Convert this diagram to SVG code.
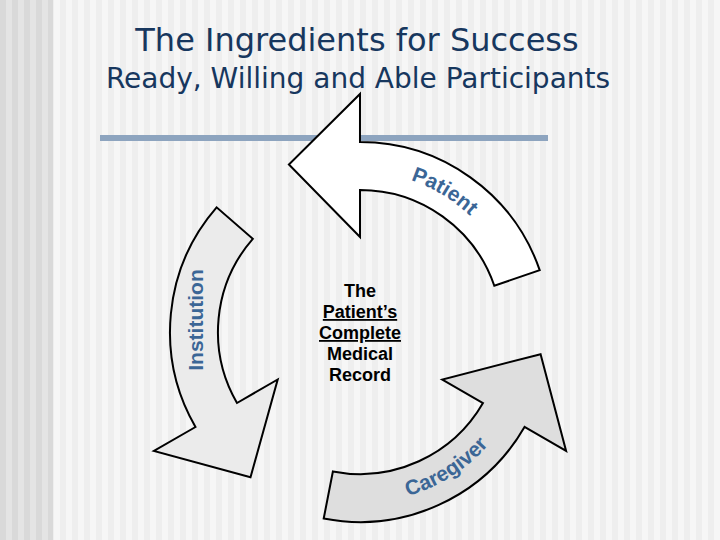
<svg xmlns="http://www.w3.org/2000/svg" width="720" height="540" viewBox="0 0 720 540">
  <defs>
    <pattern id="stripeL" x="0" y="0" width="12" height="12" patternUnits="userSpaceOnUse">
      <rect x="0" y="0" width="6" height="12" fill="#d9d9d9"/>
      <rect x="6" y="0" width="6" height="12" fill="#e4e4e4"/>
    </pattern>
    <pattern id="stripeR" x="0" y="0" width="12" height="12" patternUnits="userSpaceOnUse">
      <rect x="0" y="0" width="6" height="12" fill="#eeeeee"/>
      <rect x="6" y="0" width="6" height="12" fill="#f6f6f6"/>
    </pattern>
    <path id="arrowShape" d="M 216.6 207.3 A 190 190 0 0 0 195.5 427 L 153.9 451 L 250.5 477.3 L 277.7 379.5 L 237 403 A 142 142 0 0 1 252.8 238.8 Z"/>
    <path id="patientPath" d="M 362.8 172 A 160 160 0 0 1 499.9 254.4"/>
    <path id="caregiverPath" d="M 367.5 502.8 A 171 171 0 0 0 511.7 411"/>
  </defs>
  <style>
    .title { font-family: "DejaVu Sans", Verdana, sans-serif; fill: #17375e; text-anchor: middle; }
    .arrow { stroke: #000; stroke-width: 2; stroke-linejoin: miter; }
    .label { font-family: "Liberation Sans", Arial, sans-serif; font-weight: bold; font-size: 21px; fill: #3b6696; }
    .center { font-family: "Liberation Sans", Arial, sans-serif; font-weight: bold; font-size: 18px; fill: #000; text-anchor: middle; }
  </style>

  <rect x="0" y="0" width="720" height="540" fill="url(#stripeR)"/>
  <rect x="0" y="0" width="53" height="540" fill="url(#stripeL)"/>

  <g id="title">
    <text class="title" x="357" y="51" font-size="32">The Ingredients for Success</text>
    <text class="title" x="358" y="88" font-size="28">Ready, Willing and Able Participants</text>
  </g>
  <rect id="rule" x="100" y="135" width="448" height="6" fill="#8da4bf"/>

  <g id="connectors">
    <g id="institution-arrow">
      <use href="#arrowShape" class="arrow" fill="#ebebeb"/>
      <text class="label" transform="translate(203 320) rotate(-90)" text-anchor="middle">Institution</text>
    </g>
    <g id="caregiver-arrow">
      <use href="#arrowShape" class="arrow" fill="#dedede" transform="rotate(-120 360 332)"/>
      <text class="label" text-anchor="middle"><textPath href="#caregiverPath" startOffset="50%">Caregiver</textPath></text>
    </g>
    <g id="patient-arrow">
      <use href="#arrowShape" class="arrow" fill="#ffffff" transform="rotate(120 360 332)"/>
      <text class="label" text-anchor="middle"><textPath href="#patientPath" startOffset="50%">Patient</textPath></text>
    </g>
  </g>

  <g id="record">
    <text class="center" x="360" y="297">The</text>
    <text class="center" x="360" y="318" text-decoration="underline">Patient’s</text>
    <text class="center" x="360" y="339" text-decoration="underline">Complete</text>
    <text class="center" x="360" y="360">Medical</text>
    <text class="center" x="360" y="381">Record</text>
  </g>
</svg>
